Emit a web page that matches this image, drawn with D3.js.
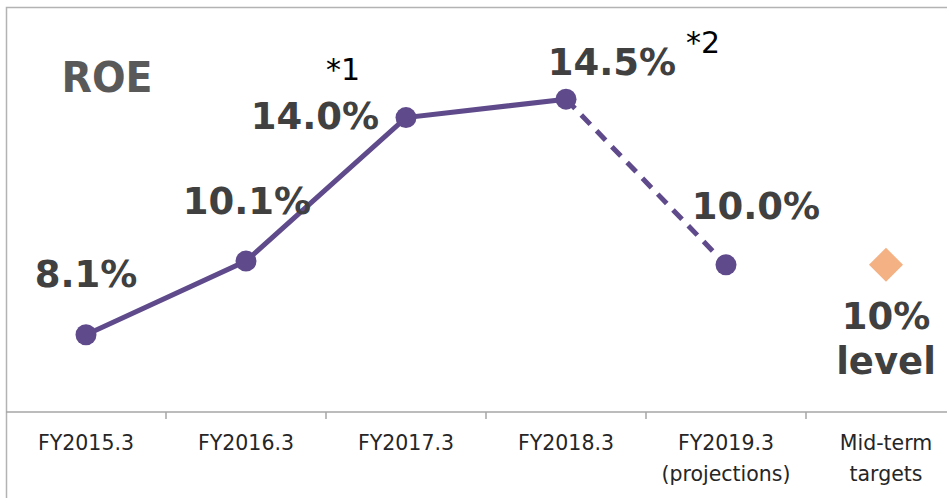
<!DOCTYPE html>
<html>
<head>
<meta charset="utf-8">
<script src="https://cdn.jsdelivr.net/npm/d3@7"></script>
<style>
  body { margin: 0; background: #fff; }
  svg { display: block; font-family: "DejaVu Sans", Verdana, sans-serif; }
</style>
</head>
<body>
<div class="vis-roe"></div>
<script>
const categories = ['FY2015.3', 'FY2016.3', 'FY2017.3', 'FY2018.3', 'FY2019.3', 'Mid-term'];
const tickLabels = [['FY2015.3'], ['FY2016.3'], ['FY2017.3'], ['FY2018.3'], ['FY2019.3', '(projections)'], ['Mid-term', 'targets']];
const roeActual = [8.1, 10.1, 14.0, 14.5];
const roeProjection = [14.5, 10.0];   // FY2018.3 -> FY2019.3
const roeTarget = 10;
const valueLabels = ['8.1%', '10.1%', '14.0%', '14.5%', '10.0%'];
const footnotes = ['*1', '*2'];

// label nudges (px) relative to each point
const labelOffset = [[0, -48], [1, -47], [-91, 11], [46, -24], [30, -46]];

const width = 947, height = 498;
const purple = '#5f4a8b';

const svg = d3.select('.vis-roe').append('svg')
    .attr('width', width)
    .attr('height', height);

// outer frame (right/bottom edges fall outside the picture)
svg.append('rect')
    .attr('x', 6.5).attr('y', 7.5)
    .attr('width', 960).attr('height', 520)
    .attr('fill', 'none')
    .attr('stroke', '#b3b3b3')
    .attr('stroke-width', 1.5);

let x = d3.scaleBand().domain(categories).range([6, 966]);
let y = d3.scaleLinear().domain([6, 16]).range([412, 44]);
const cx = d => x(d) + x.bandwidth() / 2;

// x axis line + ticks at band edges
svg.append('line')
    .attr('x1', 6).attr('x2', width)
    .attr('y1', y(6)).attr('y2', y(6))
    .attr('stroke', '#a6a6a6').attr('stroke-width', 1.5);
svg.selectAll('.tick-mark')
    .data(categories.slice(1))
    .enter().append('line')
    .attr('class', 'tick-mark')
    .attr('x1', d => x(d)).attr('x2', d => x(d))
    .attr('y1', y(6)).attr('y2', y(6) + 7)
    .attr('stroke', '#a6a6a6').attr('stroke-width', 1.5);

const tl = svg.selectAll('.tick-label')
    .data(categories)
    .enter().append('text')
    .attr('class', 'tick-label')
    .attr('text-anchor', 'middle')
    .attr('font-size', 20.5)
    .attr('fill', '#262626');
tl.each(function(d, i) {
    d3.select(this).selectAll('tspan')
        .data(tickLabels[i])
        .enter().append('tspan')
        .attr('x', cx(d))
        .attr('y', (t, j) => 450 + j * 31)
        .text(t => t);
});

// lines
const line = d3.line().x(d => cx(d.c)).y(d => y(d.v));
const actual = roeActual.map((v, i) => ({c: categories[i], v: v}));
const proj = roeProjection.map((v, i) => ({c: categories[i + 3], v: v}));

svg.append('path')
    .datum(proj)
    .attr('d', line)
    .attr('fill', 'none')
    .attr('stroke', purple)
    .attr('stroke-width', 5)
    .attr('stroke-dasharray', '13,9');
svg.append('path')
    .datum(actual)
    .attr('d', line)
    .attr('fill', 'none')
    .attr('stroke', purple)
    .attr('stroke-width', 5);

const points = actual.concat(proj.slice(1));
svg.selectAll('.dot')
    .data(points)
    .enter().append('circle')
    .attr('class', 'dot')
    .attr('cx', d => cx(d.c))
    .attr('cy', d => y(d.v))
    .attr('r', 10.5)
    .attr('fill', purple);

// mid-term target diamond
svg.append('path')
    .attr('d', d3.symbol().type(d3.symbolSquare).size(580))
    .attr('transform', 'translate(' + cx('Mid-term') + ',' + y(roeTarget) + ') rotate(45)')
    .attr('fill', '#f4b183');

// value labels
svg.selectAll('.val')
    .data(points)
    .enter().append('text')
    .attr('class', 'val')
    .attr('x', (d, i) => cx(d.c) + labelOffset[i][0])
    .attr('y', (d, i) => y(d.v) + labelOffset[i][1])
    .attr('text-anchor', 'middle')
    .attr('font-size', 37)
    .attr('font-weight', 'bold')
    .attr('fill', '#404040')
    .text((d, i) => valueLabels[i]);

const tgt = svg.append('text')
    .attr('text-anchor', 'middle')
    .attr('font-size', 37)
    .attr('font-weight', 'bold')
    .attr('fill', '#404040');
tgt.append('tspan').attr('x', cx('Mid-term')).attr('y', y(roeTarget) + 64).text(roeTarget + '%');
tgt.append('tspan').attr('x', cx('Mid-term')).attr('y', y(roeTarget) + 109).text('level');

// footnote markers
svg.append('text')
    .attr('x', cx('FY2017.3') - 63).attr('y', 80)
    .attr('text-anchor', 'middle')
    .attr('font-size', 30)
    .attr('fill', '#000')
    .text(footnotes[0]);
svg.append('text')
    .attr('x', cx('FY2018.3') + 137).attr('y', 53)
    .attr('text-anchor', 'middle')
    .attr('font-size', 30)
    .attr('fill', '#000')
    .text(footnotes[1]);

// title
svg.append('text')
    .attr('transform', 'translate(107,92) scale(0.92,1)')
    .attr('text-anchor', 'middle')
    .attr('font-size', 43)
    .attr('font-weight', 'bold')
    .attr('fill', '#595959')
    .text('ROE');
</script>
</body>
</html>
